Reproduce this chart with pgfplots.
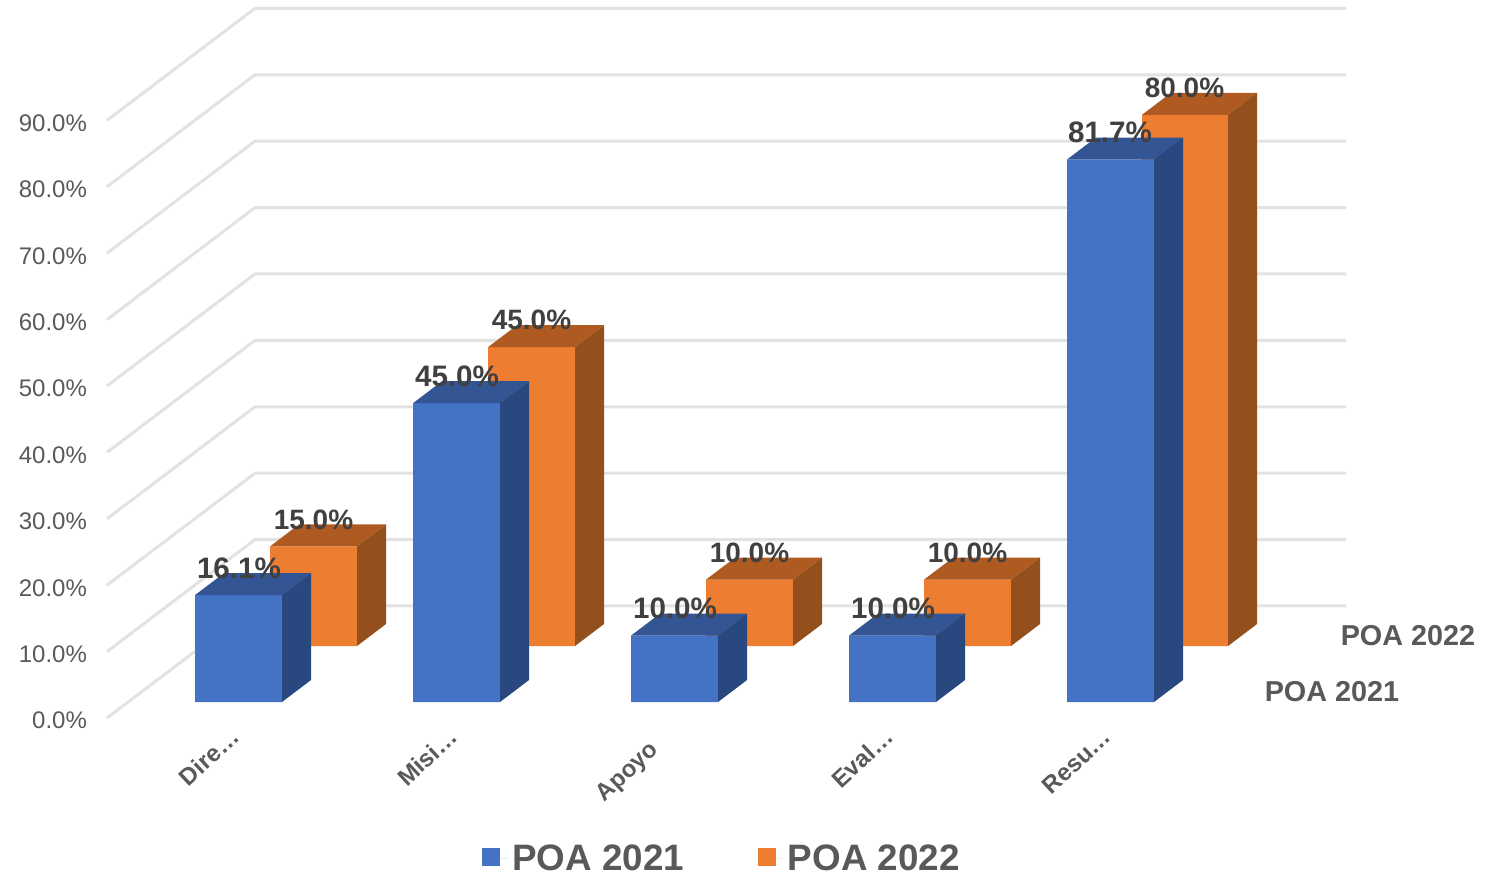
\documentclass[border=0pt]{standalone}
\usepackage{pgfplots}
\pgfplotsset{compat=1.18}
\usepackage{fontspec}
\setmainfont{Liberation Sans}

\definecolor{blueF}{HTML}{4472C4}
\definecolor{blueS}{HTML}{294880}
\definecolor{blueT}{HTML}{335593}
\definecolor{orangeF}{HTML}{ED7D31}
\definecolor{orangeS}{HTML}{94501C}
\definecolor{orangeT}{HTML}{AF5A21}
\definecolor{wall}{HTML}{E2E2E2}
\definecolor{txt}{HTML}{595959}
\definecolor{lab}{HTML}{404040}

\begin{document}
\begin{tikzpicture}
\begin{axis}[
    scale only axis,
    width=743pt, height=436.5pt,
    xmin=0, xmax=1486,
    ymin=-23.34, ymax=108.13,
    clip=false,
    unbounded coords=jump,
    axis line style={draw=none},
    tick style={draw=none},
    xtick pos=bottom, ytick pos=left,
    ytick={0,10,20,30,40,50,60,70,80,90},
    yticklabels={0.0\%,10.0\%,20.0\%,30.0\%,40.0\%,50.0\%,60.0\%,70.0\%,80.0\%,90.0\%},
    yticklabel style={font=\fontsize{12}{14}\selectfont, text=txt, anchor=east, xshift=47pt, yshift=-1.3pt},
    xtick={240,458,676,894,1112},
    xticklabels={Dire…,Misi…,Apoyo\hspace{10.5pt}\mbox{},Eval…,Resu…},
    xticklabel style={font=\fontsize{12}{14}\selectfont\bfseries, text=txt, yshift=72.5pt, rotate=43, anchor=east},
    legend columns=2,
    legend image code/.code={\fill[#1] (0pt,-3.5pt) rectangle (9pt,5.5pt); \path (9pt,0pt) -- (13pt,0pt);},
    legend style={
        at={(axis cs:476,-21.2)}, anchor=west,
        draw=none, fill=none,
        font=\fontsize{18.4}{20}\selectfont\bfseries, text=txt,
        /tikz/every even column/.style={column sep=34.8pt},
    },
]
% back wall and side wall lines, 0 to 90
\addplot[wall, line width=1.5pt, forget plot] coordinates {
    (107,0)(255,16.87)(1346,16.87)(107,nan)
    (107,10)(255,26.87)(1346,26.87)(107,nan)
    (107,20)(255,36.87)(1346,36.87)(107,nan)
    (107,30)(255,46.87)(1346,46.87)(107,nan)
    (107,40)(255,56.87)(1346,56.87)(107,nan)
    (107,50)(255,66.87)(1346,66.87)(107,nan)
    (107,60)(255,76.87)(1346,76.87)(107,nan)
    (107,70)(255,86.87)(1346,86.87)(107,nan)
    (107,80)(255,96.87)(1346,96.87)(107,nan)
    (107,90)(255,106.87)(1346,106.87)
};

% POA 2022, back row
\addplot[fill=orangeF, draw=none, yshift=36pt, forget plot] coordinates {
    (270,0)(357,0)(357,15)(270,15)(270,nan)
    (488,0)(575,0)(575,45)(488,45)(488,nan)
    (706,0)(793,0)(793,10)(706,10)(706,nan)
    (924,0)(1011,0)(1011,10)(924,10)(924,nan)
    (1142,0)(1228,0)(1228,80)(1142,80)
};
\addplot[fill=orangeT, draw=none, yshift=36pt, forget plot] coordinates {
    (270,15)(299,18.31)(386,18.31)(357,15)(270,nan)
    (488,45)(517,48.31)(604,48.31)(575,45)(488,nan)
    (706,10)(735,13.31)(822,13.31)(793,10)(706,nan)
    (924,10)(953,13.31)(1040,13.31)(1011,10)(924,nan)
    (1142,80)(1171,83.31)(1257,83.31)(1228,80)
};
\addplot[fill=orangeS, draw=none, yshift=36pt, forget plot] coordinates {
    (357,0)(386,3.31)(386,18.31)(357,15)(357,nan)
    (575,0)(604,3.31)(604,48.31)(575,45)(575,nan)
    (793,0)(822,3.31)(822,13.31)(793,10)(793,nan)
    (1011,0)(1040,3.31)(1040,13.31)(1011,10)(1011,nan)
    (1228,0)(1257,3.31)(1257,83.31)(1228,80)
};

% POA 2021, front row
\addplot[fill=blueF, draw=none, yshift=8pt, forget plot] coordinates {
    (195,0)(282,0)(282,16.1)(195,16.1)(195,nan)
    (413,0)(500,0)(500,45)(413,45)(413,nan)
    (631,0)(718,0)(718,10)(631,10)(631,nan)
    (849,0)(936,0)(936,10)(849,10)(849,nan)
    (1067,0)(1154,0)(1154,81.7)(1067,81.7)
};
\addplot[fill=blueT, draw=none, yshift=8pt, forget plot] coordinates {
    (195,16.1)(224,19.41)(311,19.41)(282,16.1)(195,nan)
    (413,45)(442,48.31)(529,48.31)(500,45)(413,nan)
    (631,10)(660,13.31)(747,13.31)(718,10)(631,nan)
    (849,10)(878,13.31)(965,13.31)(936,10)(849,nan)
    (1067,81.7)(1096,85.01)(1183,85.01)(1154,81.7)
};
\addplot[fill=blueS, draw=none, yshift=8pt, forget plot] coordinates {
    (282,0)(311,3.31)(311,19.41)(282,16.1)(282,nan)
    (500,0)(529,3.31)(529,48.31)(500,45)(500,nan)
    (718,0)(747,3.31)(747,13.31)(718,10)(718,nan)
    (936,0)(965,3.31)(965,13.31)(936,10)(936,nan)
    (1154,0)(1183,3.31)(1183,85.01)(1154,81.7)
};

% data labels
\addplot[draw=none, yshift=36pt, forget plot, point meta=explicit symbolic,
    nodes near coords, nodes near coords style={anchor=center, yshift=13.5pt, text=lab,
    font=\fontsize{14}{16}\selectfont\bfseries}] coordinates {
    (313.5,15)[15.0\%] (531.5,45)[45.0\%] (749.5,10)[10.0\%] (967.5,10)[10.0\%] (1184.5,80)[80.0\%]
};
\addplot[draw=none, yshift=8pt, forget plot, point meta=explicit symbolic,
    nodes near coords, nodes near coords style={anchor=center, yshift=13.5pt, text=lab,
    font=\fontsize{14.8}{16}\selectfont\bfseries}] coordinates {
    (239,16.1)[16.1\%] (457,45)[45.0\%] (675,10)[10.0\%] (893,10)[10.0\%] (1110,81.7)[81.7\%]
};

\node[font=\fontsize{14.4}{16}\selectfont\bfseries, text=txt] at (axis cs:1408,12.35) {POA 2022};
\node[font=\fontsize{14.4}{16}\selectfont\bfseries, text=txt] at (axis cs:1332,3.92) {POA 2021};

\addlegendimage{fill=blueF, draw=none}
\addlegendentry{POA 2021}
\addlegendimage{fill=orangeF, draw=none}
\addlegendentry{POA 2022}
\end{axis}
\end{tikzpicture}
\end{document}
